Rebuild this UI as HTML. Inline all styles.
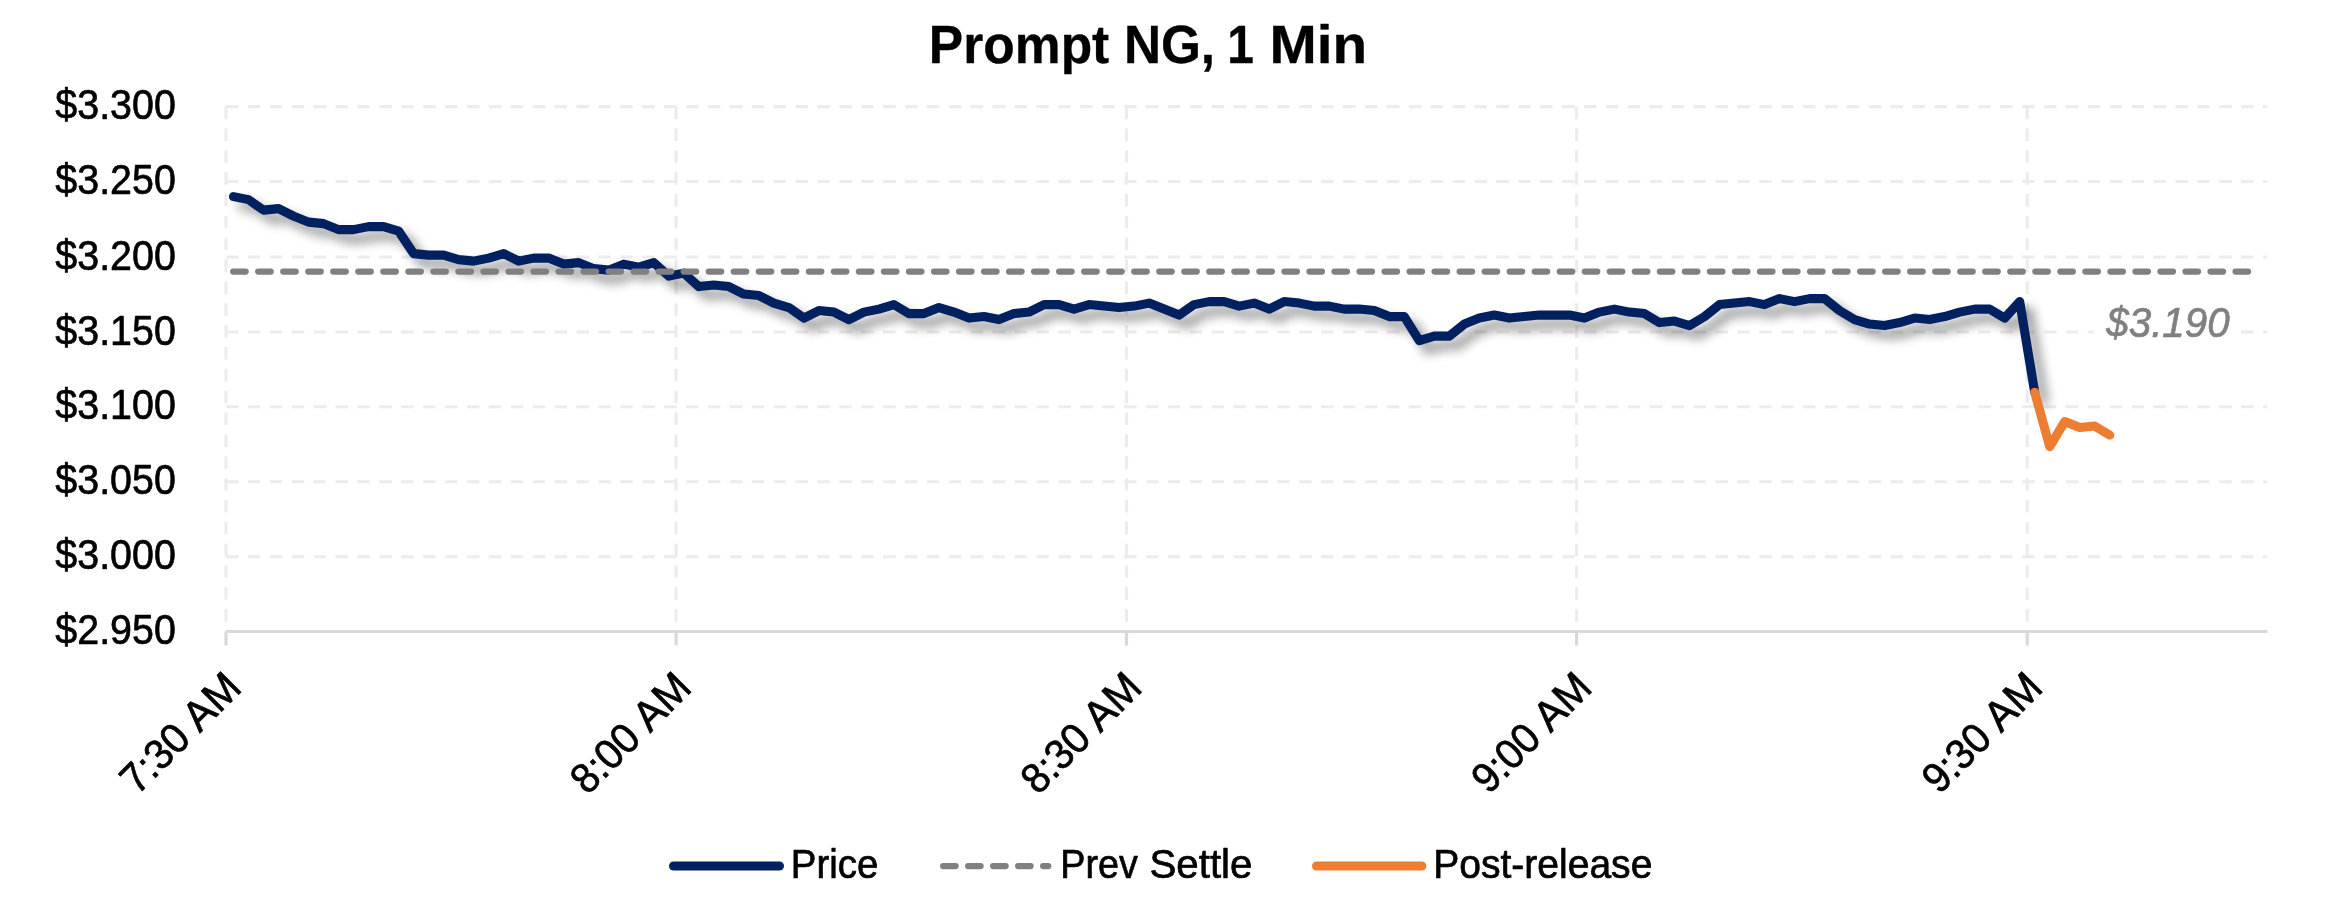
<!DOCTYPE html>
<html lang="en"><head><meta charset="utf-8"><title>Prompt NG, 1 Min</title>
<style>html,body{margin:0;padding:0;background:#fff}body{width:2325px;height:902px;overflow:hidden}svg{display:block;transform:translateZ(0);will-change:transform}text{font-family:"Liberation Sans", sans-serif;fill:#000;stroke:#000;stroke-width:0.70px;stroke-linejoin:round}</style></head><body>
<svg width="2325" height="902" viewBox="0 0 2325 902">
<defs><filter id="sh" x="-5%" y="-50%" width="110%" height="200%" filterUnits="objectBoundingBox"><feGaussianBlur in="SourceAlpha" stdDeviation="5.50"/><feOffset dx="8.90" dy="8.90"/><feComponentTransfer><feFuncA type="linear" slope="0.410"/></feComponentTransfer></filter></defs>
<rect width="2325" height="902" fill="#fff"/>
<g fill="none" stroke="#ECECEC" stroke-width="3.125" stroke-dasharray="12.516 9.387">
<path d="M226.00 556.70H2267.36"/>
<path d="M226.00 481.70H2267.36"/>
<path d="M226.00 406.70H2267.36"/>
<path d="M226.00 332.00H2267.36"/>
<path d="M226.00 257.00H2267.36"/>
<path d="M226.00 181.50H2267.36"/>
<path d="M226.00 106.65H2267.36"/>
</g>
<g fill="none" stroke="#ECECEC" stroke-width="3.125" stroke-dasharray="12.5 9.35">
<path d="M226.00 106.65V631.50"/>
<path d="M676.10 106.65V631.50"/>
<path d="M1126.50 106.65V631.50"/>
<path d="M1576.60 106.65V631.50"/>
<path d="M2027.20 106.65V631.50"/>
</g>
<g fill="none" stroke="#D9D9D9" stroke-width="3.125">
<path d="M226.00 631.50H2267.36"/>
<path d="M226.00 631.50V645.60"/>
<path d="M676.10 631.50V645.60"/>
<path d="M1126.50 631.50V645.60"/>
<path d="M1576.60 631.50V645.60"/>
<path d="M2027.20 631.50V645.60"/>
</g>
<g font-size="42.80">
<text x="55.36" y="644.20" textLength="120.42" lengthAdjust="spacingAndGlyphs">$2.950</text>
<text x="55.36" y="569.40" textLength="120.42" lengthAdjust="spacingAndGlyphs">$3.000</text>
<text x="55.36" y="494.40" textLength="120.42" lengthAdjust="spacingAndGlyphs">$3.050</text>
<text x="55.36" y="419.40" textLength="120.42" lengthAdjust="spacingAndGlyphs">$3.100</text>
<text x="55.36" y="344.70" textLength="120.42" lengthAdjust="spacingAndGlyphs">$3.150</text>
<text x="55.36" y="269.70" textLength="120.42" lengthAdjust="spacingAndGlyphs">$3.200</text>
<text x="55.36" y="194.20" textLength="120.42" lengthAdjust="spacingAndGlyphs">$3.250</text>
<text x="55.36" y="119.35" textLength="120.42" lengthAdjust="spacingAndGlyphs">$3.300</text>
</g>
<g font-size="42.20">
<text transform="translate(241.30 692.00) rotate(-45)"><tspan x="-147.03" textLength="78.08" lengthAdjust="spacingAndGlyphs">7:30</tspan> <tspan x="-58.66" textLength="61.71" lengthAdjust="spacingAndGlyphs">AM</tspan></text>
<text transform="translate(691.40 692.00) rotate(-45)"><tspan x="-146.95" textLength="78.01" lengthAdjust="spacingAndGlyphs">8:00</tspan> <tspan x="-58.66" textLength="61.71" lengthAdjust="spacingAndGlyphs">AM</tspan></text>
<text transform="translate(1141.80 692.00) rotate(-45)"><tspan x="-146.95" textLength="78.01" lengthAdjust="spacingAndGlyphs">8:30</tspan> <tspan x="-58.66" textLength="61.71" lengthAdjust="spacingAndGlyphs">AM</tspan></text>
<text transform="translate(1591.90 692.00) rotate(-45)"><tspan x="-146.03" textLength="77.07" lengthAdjust="spacingAndGlyphs">9:00</tspan> <tspan x="-58.66" textLength="61.71" lengthAdjust="spacingAndGlyphs">AM</tspan></text>
<text transform="translate(2042.50 692.00) rotate(-45)"><tspan x="-146.03" textLength="77.07" lengthAdjust="spacingAndGlyphs">9:30</tspan> <tspan x="-58.66" textLength="61.71" lengthAdjust="spacingAndGlyphs">AM</tspan></text>
</g>
<polyline points="233.50,196.62 248.51,199.62 263.52,210.11 278.53,208.61 293.55,216.11 308.56,222.11 323.56,223.61 338.57,229.61 353.58,229.61 368.60,226.61 383.61,226.61 398.62,231.11 413.62,253.60 428.63,255.10 443.64,255.10 458.65,259.60 473.66,261.10 488.68,258.10 503.69,253.60 518.69,261.10 533.70,258.10 548.71,258.10 563.73,264.10 578.74,262.60 593.75,268.60 608.75,270.10 623.76,264.10 638.77,267.10 653.78,262.60 668.80,276.09 683.81,273.10 698.82,286.59 713.83,285.09 728.84,286.59 743.85,294.09 758.86,295.59 773.87,303.09 788.88,307.59 803.88,318.08 818.89,310.59 833.90,312.09 848.91,319.58 863.92,312.09 878.93,309.09 893.94,304.59 908.96,313.58 923.97,313.58 938.98,307.59 953.99,312.09 969.00,318.08 984.00,316.58 999.01,319.58 1014.02,313.58 1029.03,312.09 1044.05,304.59 1059.05,304.59 1074.07,309.09 1089.07,304.59 1104.09,306.09 1119.10,307.59 1134.11,306.09 1149.12,303.09 1164.12,309.09 1179.13,315.08 1194.14,304.59 1209.15,301.59 1224.16,301.59 1239.17,306.09 1254.18,303.09 1269.19,309.09 1284.20,301.59 1299.21,303.09 1314.22,306.09 1329.23,306.09 1344.24,309.09 1359.25,309.09 1374.26,310.59 1389.28,316.58 1404.29,316.58 1419.30,340.58 1434.31,336.08 1449.32,336.08 1464.33,324.08 1479.34,318.08 1494.35,315.08 1509.36,318.08 1524.37,316.58 1539.38,315.08 1554.38,315.08 1569.39,315.08 1584.40,318.08 1599.41,312.09 1614.42,309.09 1629.43,312.09 1644.44,313.58 1659.45,322.58 1674.46,321.08 1689.47,325.58 1704.48,316.58 1719.49,304.59 1734.50,303.09 1749.51,301.59 1764.53,304.59 1779.54,298.59 1794.55,301.59 1809.56,298.59 1824.57,298.59 1839.58,310.59 1854.59,319.58 1869.60,324.08 1884.61,325.58 1899.62,322.58 1914.62,318.08 1929.63,319.58 1944.64,316.58 1959.65,312.09 1974.66,309.09 1989.67,309.09 2004.68,318.08 2019.69,301.59 2034.70,392.31" fill="none" stroke="#000" stroke-width="9.10" stroke-linejoin="round" stroke-linecap="round" filter="url(#sh)"/>
<polyline points="233.50,196.62 248.51,199.62 263.52,210.11 278.53,208.61 293.55,216.11 308.56,222.11 323.56,223.61 338.57,229.61 353.58,229.61 368.60,226.61 383.61,226.61 398.62,231.11 413.62,253.60 428.63,255.10 443.64,255.10 458.65,259.60 473.66,261.10 488.68,258.10 503.69,253.60 518.69,261.10 533.70,258.10 548.71,258.10 563.73,264.10 578.74,262.60 593.75,268.60 608.75,270.10 623.76,264.10 638.77,267.10 653.78,262.60 668.80,276.09 683.81,273.10 698.82,286.59 713.83,285.09 728.84,286.59 743.85,294.09 758.86,295.59 773.87,303.09 788.88,307.59 803.88,318.08 818.89,310.59 833.90,312.09 848.91,319.58 863.92,312.09 878.93,309.09 893.94,304.59 908.96,313.58 923.97,313.58 938.98,307.59 953.99,312.09 969.00,318.08 984.00,316.58 999.01,319.58 1014.02,313.58 1029.03,312.09 1044.05,304.59 1059.05,304.59 1074.07,309.09 1089.07,304.59 1104.09,306.09 1119.10,307.59 1134.11,306.09 1149.12,303.09 1164.12,309.09 1179.13,315.08 1194.14,304.59 1209.15,301.59 1224.16,301.59 1239.17,306.09 1254.18,303.09 1269.19,309.09 1284.20,301.59 1299.21,303.09 1314.22,306.09 1329.23,306.09 1344.24,309.09 1359.25,309.09 1374.26,310.59 1389.28,316.58 1404.29,316.58 1419.30,340.58 1434.31,336.08 1449.32,336.08 1464.33,324.08 1479.34,318.08 1494.35,315.08 1509.36,318.08 1524.37,316.58 1539.38,315.08 1554.38,315.08 1569.39,315.08 1584.40,318.08 1599.41,312.09 1614.42,309.09 1629.43,312.09 1644.44,313.58 1659.45,322.58 1674.46,321.08 1689.47,325.58 1704.48,316.58 1719.49,304.59 1734.50,303.09 1749.51,301.59 1764.53,304.59 1779.54,298.59 1794.55,301.59 1809.56,298.59 1824.57,298.59 1839.58,310.59 1854.59,319.58 1869.60,324.08 1884.61,325.58 1899.62,322.58 1914.62,318.08 1929.63,319.58 1944.64,316.58 1959.65,312.09 1974.66,309.09 1989.67,309.09 2004.68,318.08 2019.69,301.59 2034.70,392.31" fill="none" stroke="#002060" stroke-width="9.10" stroke-linejoin="round" stroke-linecap="round"/>
<path d="M233.15 271.60H2259.90" fill="none" stroke="#808080" stroke-width="6.25" stroke-linecap="round" stroke-dasharray="12.5 12.53"/>
<polyline points="2034.70,392.31 2049.72,446.60 2064.72,421.56 2079.73,427.55 2094.74,426.05 2109.76,435.05" fill="none" stroke="#ED7D31" stroke-width="9.10" stroke-linejoin="round" stroke-linecap="round"/>
<rect x="2094" y="300" width="147" height="50" fill="#fff"/>
<text x="2106.25" y="337.2" font-size="42.80" font-style="italic" style="fill:#808080;stroke:#808080" textLength="123.45" lengthAdjust="spacingAndGlyphs">$3.190</text>
<text y="62.9" font-size="53.00" font-weight="bold" style="stroke-width:0.3px"><tspan x="928.87" textLength="180.43" lengthAdjust="spacingAndGlyphs">Prompt</tspan> <tspan x="1123.89" textLength="91.25" lengthAdjust="spacingAndGlyphs">NG,</tspan> <tspan x="1227.35" textLength="26.67" lengthAdjust="spacingAndGlyphs">1</tspan> <tspan x="1269.52" textLength="97.63" lengthAdjust="spacingAndGlyphs">Min</tspan></text>
<path d="M673.55 866.00H779.45" fill="none" stroke="#002060" stroke-width="9.10" stroke-linecap="round"/>
<path d="M943.12 866.00H1048.28" fill="none" stroke="#808080" stroke-width="6.25" stroke-linecap="round" stroke-dasharray="12.5 12.5"/>
<path d="M1316.55 866.00H1421.85" fill="none" stroke="#ED7D31" stroke-width="9.10" stroke-linecap="round"/>
<g font-size="40.80">
<text y="878.4"><tspan x="790.78" textLength="87.54" lengthAdjust="spacingAndGlyphs">Price</tspan></text>
<text y="878.4"><tspan x="1060.23" textLength="77.65" lengthAdjust="spacingAndGlyphs">Prev</tspan> <tspan x="1149.54" textLength="102.91" lengthAdjust="spacingAndGlyphs">Settle</tspan></text>
<text y="878.4"><tspan x="1433.13" textLength="219.24" lengthAdjust="spacingAndGlyphs">Post-release</tspan></text>
</g>
</svg></body></html>
